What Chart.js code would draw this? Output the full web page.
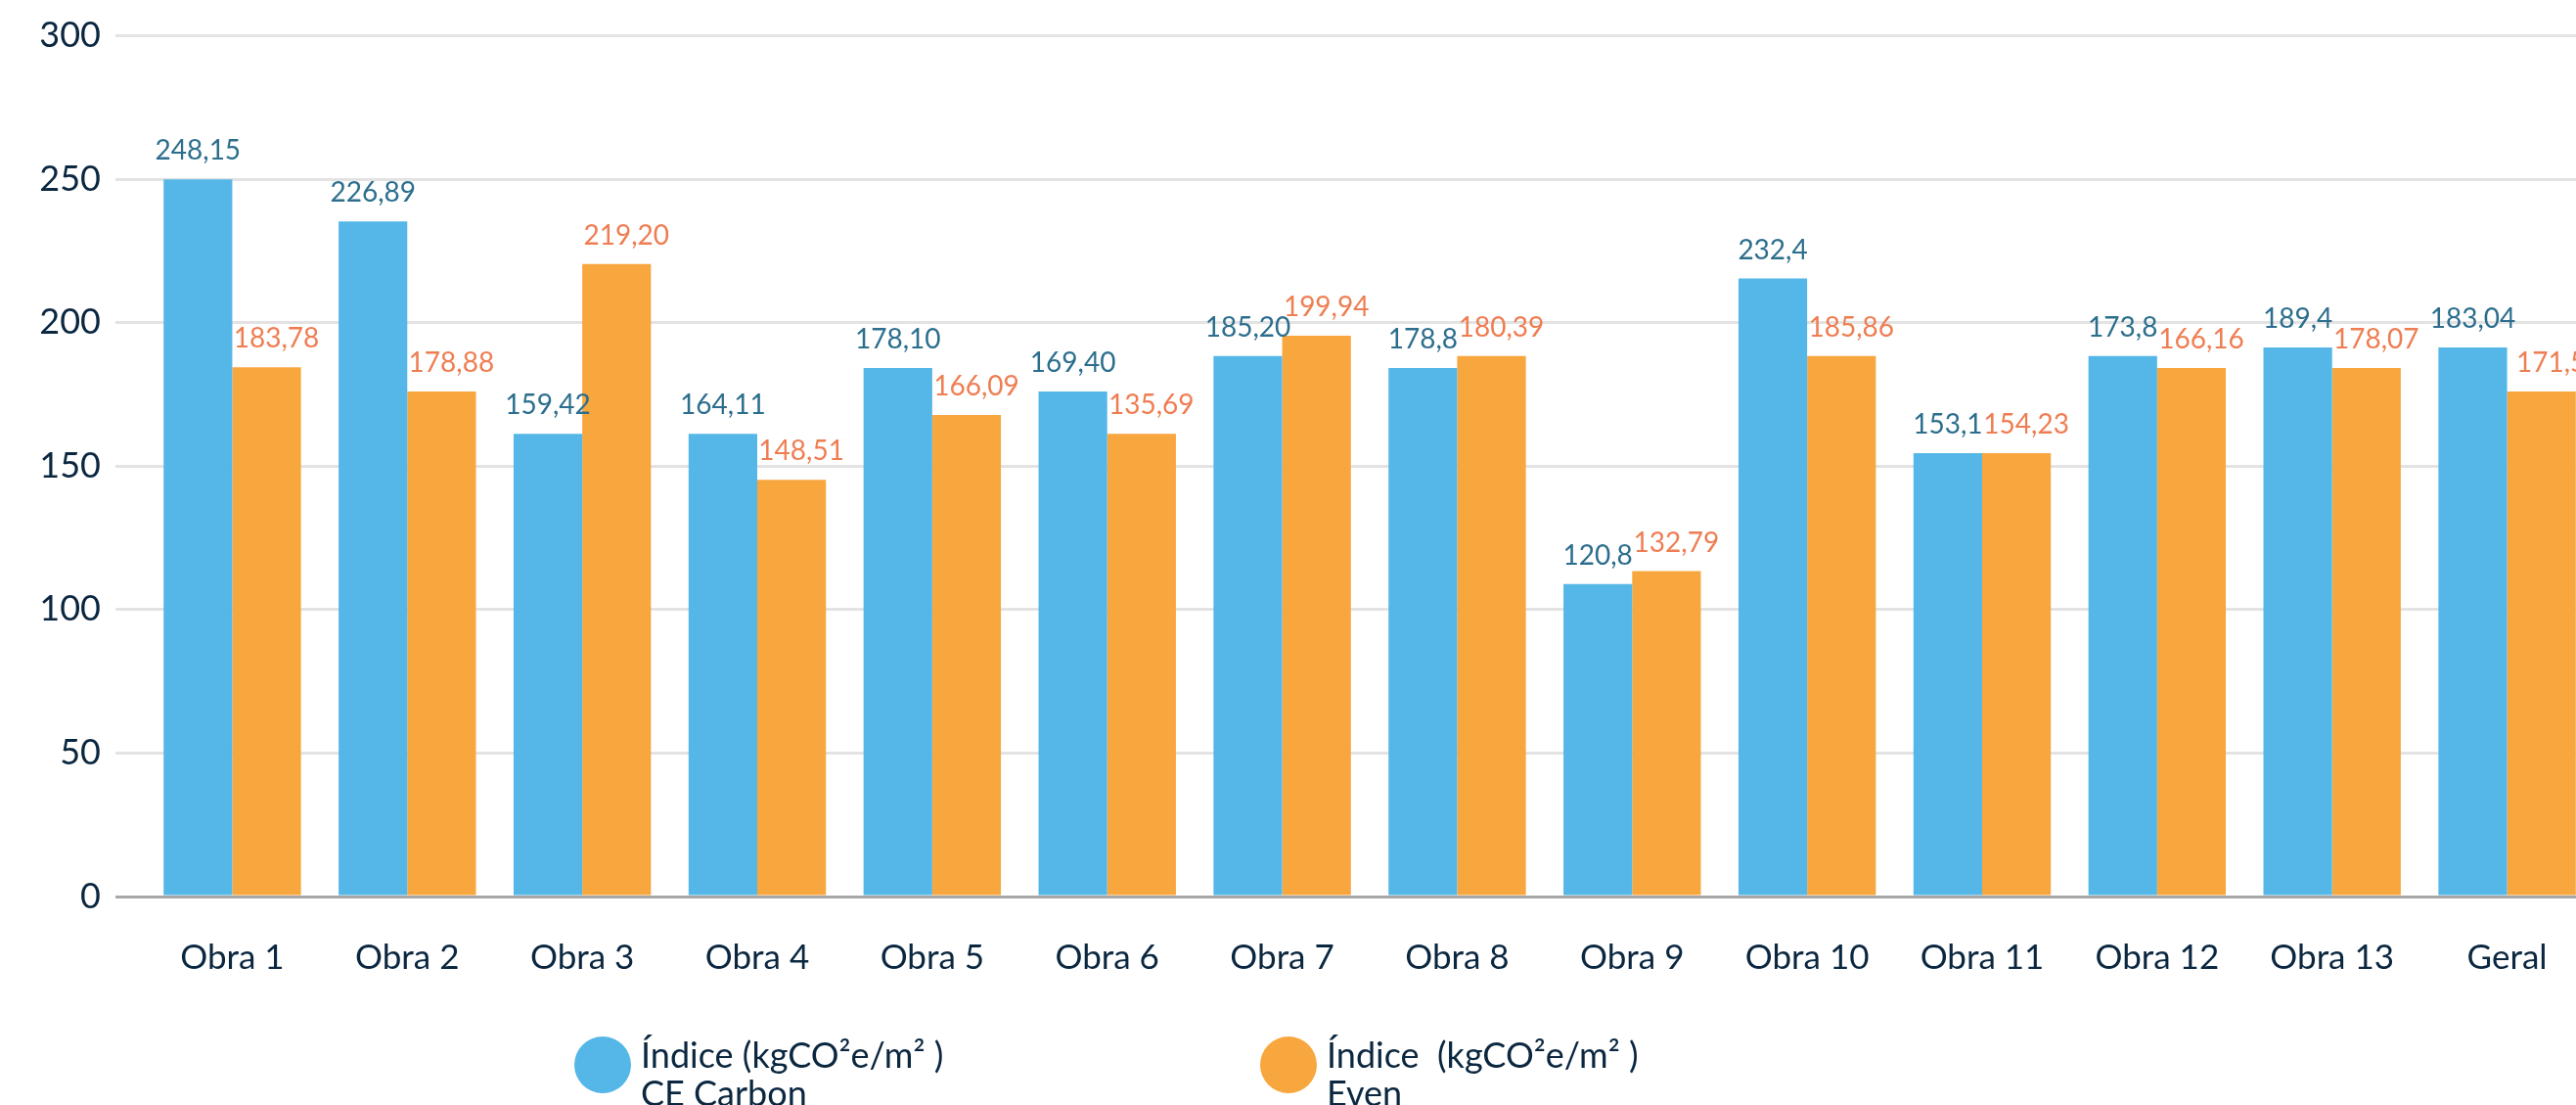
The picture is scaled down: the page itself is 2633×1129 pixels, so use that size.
<!DOCTYPE html>
<html>
<head>
<meta charset="utf-8">
<script src="https://cdn.jsdelivr.net/npm/chart.js@4.4.1/dist/chart.umd.min.js"></script>
<style>
html, body { margin: 0; padding: 0; background: #fff; overflow: hidden; }
#wrap { position: relative; width: 2660px; height: 1129px; }
</style>
</head>
<body>
<div id="wrap"><canvas id="myChart"></canvas></div>
<script>
// dados
var obras = ['Obra 1', 'Obra 2', 'Obra 3', 'Obra 4', 'Obra 5', 'Obra 6', 'Obra 7',
             'Obra 8', 'Obra 9', 'Obra 10', 'Obra 11', 'Obra 12', 'Obra 13', 'Geral'];
var carbonValues = [250, 235.3, 161.3, 161.3, 184.2, 176, 188.4, 184.2, 108.9, 215.4, 154.5, 188.4, 191.4, 191.4];
var evenValues = [184.5, 176, 220.5, 145.2, 167.8, 161.3, 195.5, 188.4, 113.4, 188.4, 154.5, 184.2, 184.2, 176];
var carbonText = ['248,15', '226,89', '159,42', '164,11', '178,10', '169,40', '185,20',
                  '178,8', '120,8', '232,4', '153,1', '173,8', '189,4', '183,04'];
var evenText = ['183,78', '178,88', '219,20', '148,51', '166,09', '135,69', '199,94',
                '180,39', '132,79', '185,86', '154,23', '166,16', '178,07', '171,5'];
var yMin = 0, yMax = 300, yStep = 50;
var carbonLegend = ['Índice (kgCO²e/m² )', 'CE Carbon'];
var evenLegend = ['Índice  (kgCO²e/m² )', 'Even'];

var BLUE = '#55B7E7';
var ORANGE = '#F8A63E';
var NAVY = '#0B2740';

Chart.defaults.font.family = 'Lato';

// rótulos em cima das barras
var valueLabels = {
    id: 'valueLabels',
    afterDatasetsDraw: function(chart) {
        var ctx = chart.ctx;
        ctx.save();
        ctx.font = '28px Lato';
        ctx.textAlign = 'center';
        ctx.textBaseline = 'alphabetic';
        chart.data.datasets.forEach(function(ds, i) {
            var meta = chart.getDatasetMeta(i);
            ctx.fillStyle = ds.textColor;
            meta.data.forEach(function(bar, j) {
                ctx.fillText(ds.valueText[j], bar.x + ds.textShift, bar.y - 20);
            });
        });
        ctx.restore();
    }
};

// legenda com duas linhas
var legendaBaixo = {
    id: 'legendaBaixo',
    afterDraw: function(chart) {
        var ctx = chart.ctx;
        var items = [
            {cx: 616, color: BLUE, lines: chart.data.datasets[0].legendLines},
            {cx: 1317, color: ORANGE, lines: chart.data.datasets[1].legendLines}
        ];
        ctx.save();
        ctx.font = '36px Lato';
        ctx.textAlign = 'left';
        ctx.textBaseline = 'alphabetic';
        items.forEach(function(it) {
            ctx.fillStyle = it.color;
            ctx.beginPath();
            ctx.arc(it.cx, 1088, 29, 0, Math.PI * 2);
            ctx.fill();
            ctx.fillStyle = NAVY;
            it.lines.forEach(function(t, k) {
                ctx.fillText(t, it.cx + 39, 1091 + k * 39);
            });
        });
        ctx.restore();
    }
};

var ctx = document.getElementById('myChart').getContext('2d');
var myChart = new Chart(ctx, {
    type: 'bar',
    data: {
        labels: obras,
        datasets: [{
            label: carbonLegend.join(' '),
            legendLines: carbonLegend,
            data: carbonValues,
            valueText: carbonText,
            textColor: '#2C6E8D',
            textShift: 0,
            backgroundColor: BLUE,
            borderWidth: 0,
            barPercentage: 1,
            categoryPercentage: 0.785
        }, {
            label: evenLegend.join(' '),
            legendLines: evenLegend,
            data: evenValues,
            valueText: evenText,
            textColor: '#EF7D52',
            textShift: 10,
            backgroundColor: ORANGE,
            borderWidth: 0,
            barPercentage: 1,
            categoryPercentage: 0.785
        }]
    },
    options: {
        responsive: true,
        maintainAspectRatio: false,
        animation: false,
        layout: { padding: { top: 36, right: 8, left: 0, bottom: 0 } },
        plugins: {
            legend: { display: false },
            tooltip: { enabled: false }
        },
        scales: {
            x: {
                grid: { display: false },
                border: { display: true, color: '#A8A8A8', width: 3 },
                ticks: { color: NAVY, font: { size: 35 }, padding: 34 },
                afterFit: function(scale) { scale.height = 213; }
            },
            y: {
                min: yMin,
                max: yMax,
                ticks: { stepSize: yStep, color: NAVY, font: { size: 36 }, padding: 15 },
                grid: {
                    color: function(c) { return c.tick && c.tick.value === 0 ? '#A8A8A8' : '#E3E3E3'; },
                    lineWidth: 3,
                    drawTicks: true,
                    tickLength: 30
                },
                border: { display: false },
                afterFit: function(scale) { scale.width = 148; }
            }
        }
    },
    plugins: [valueLabels, legendaBaixo]
});
</script>
</body>
</html>
